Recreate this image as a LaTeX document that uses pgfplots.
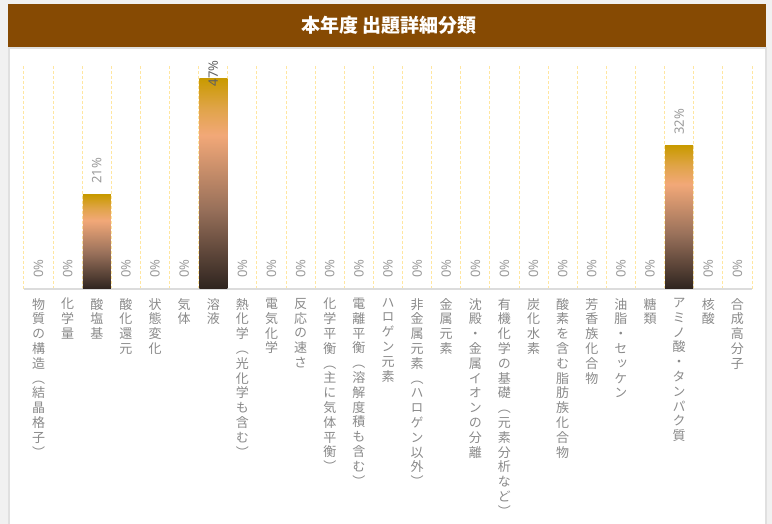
\documentclass[border=0pt]{standalone}
\usepackage{fontspec}
\usepackage{pgfplots}
\pgfplotsset{compat=1.18}
\setmainfont{Noto Sans}
\newfontfamily\jp{Noto Sans CJK JP}
\newfontfamily\vjp{Noto Sans CJK JP}[RawFeature={+vert}]
\definecolor{bgc}{HTML}{F1F1F1}
\definecolor{panelb}{HTML}{E0E0E0}
\definecolor{titlebrown}{HTML}{864A03}
\definecolor{gridy}{HTML}{FFE6A0}
\definecolor{axisgray}{HTML}{DCDCDC}
\definecolor{labgray}{HTML}{8A8A8A}
\definecolor{valgray}{HTML}{9A9A9A}
\definecolor{bgold}{HTML}{C99A00}
\definecolor{borange}{HTML}{E0A448}
\definecolor{bsalmon}{HTML}{F2A878}
\definecolor{bmid}{HTML}{98705A}
\definecolor{bdark}{HTML}{2E241F}
\pgfdeclareverticalshading{barshade}{100bp}{color(0bp)=(bdark); color(25bp)=(bdark); color(44bp)=(bmid); color(61.5bp)=(bsalmon); color(68bp)=(borange); color(75bp)=(bgold); color(100bp)=(bgold)}
\makeatletter
\protected\def\vt#1{\gdef\vt@out{}%
  \@tfor\vt@c:=#1\do{%
    \ifx\vt@out\@empty
      \expandafter\g@addto@macro\expandafter\vt@out\expandafter{\vt@c}%
    \else
      \expandafter\g@addto@macro\expandafter\vt@out\expandafter{\expandafter\\\vt@c}%
    \fi}%
  \vt@out}
\makeatother
\pgfplotsset{barstyle/.style={ybar, bar width=0.96, draw=none, shade, shading=barshade}}
\begin{document}
\begin{tikzpicture}
\useasboundingbox (0,0) rectangle (772pt,524pt);
\fill[bgc] (0,0) rectangle (772pt,524pt);
\draw[panelb, fill=white, line width=1.5pt] (8.75pt,-2pt) rectangle (766pt,476pt);
\fill[titlebrown] (8pt,477pt) rectangle (766pt,520pt);
\node[text=white, font=\jp\bfseries\fontsize{19}{22}\selectfont] at (389pt,498.5pt) {本年度 出題詳細分類};
\begin{axis}[
  at={(24pt,235pt)}, anchor=south west, scale only axis,
  width=728pt, height=224pt,
  xmin=-0.5, xmax=24.5, ymin=0, ymax=50,
  axis x line*=bottom, axis y line=none,
  x axis line style={draw=axisgray, line width=1.5pt},
  xtick={0,...,24},
  xticklabels={
    {\vt{物質の構造（結晶格子）}},
    {\vt{化学量}},
    {\vt{酸塩基}},
    {\vt{酸化還元}},
    {\vt{状態変化}},
    {\vt{気体}},
    {\vt{溶液}},
    {\vt{熱化学（光化学も含む）}},
    {\vt{電気化学}},
    {\vt{反応の速さ}},
    {\vt{化学平衡（主に気体平衡）}},
    {\vt{電離平衡（溶解度積も含む）}},
    {\vt{ハロゲン元素}},
    {\vt{非金属元素（ハロゲン以外）}},
    {\vt{金属元素}},
    {\vt{沈殿・金属イオンの分離}},
    {\vt{有機化学の基礎（元素分析など）}},
    {\vt{炭化水素}},
    {\vt{酸素を含む脂肪族化合物}},
    {\vt{芳香族化合物}},
    {\vt{油脂・セッケン}},
    {\vt{糖類}},
    {\vt{アミノ酸・タンパク質}},
    {\vt{核酸}},
    {\vt{合成高分子}}},
  xticklabel style={font=\vjp\fontsize{13}{14.8}\selectfont, text=labgray, align=center, anchor=north, inner sep=0pt, yshift=-9pt},
  minor xtick={-0.5,0.5,...,24.5},
  xminorgrids,
  minor x grid style={draw=gridy, line width=1pt, dash pattern=on 3pt off 2pt},
  major tick length=0pt, minor tick length=0pt,
  clip=false,
]
% 酸塩基
\addplot[barstyle] coordinates {(2,21)};
% アミノ酸・タンパク質
\addplot[barstyle] coordinates {(22,32)};
\addplot[draw=none, mark=none, point meta=explicit symbolic,
  nodes near coords,
  nodes near coords style={font=\fontsize{13}{15}\selectfont, text=valgray, rotate=90, anchor=west, inner xsep=11pt, inner ysep=0pt}]
  coordinates {
  (0,0) [0\%] (1,0) [0\%] (2,21) [21\%] (3,0) [0\%] (4,0) [0\%]
  (5,0) [0\%] (7,0) [0\%] (8,0) [0\%] (9,0) [0\%]
  (10,0) [0\%] (11,0) [0\%] (12,0) [0\%] (13,0) [0\%] (14,0) [0\%]
  (15,0) [0\%] (16,0) [0\%] (17,0) [0\%] (18,0) [0\%] (19,0) [0\%]
  (20,0) [0\%] (21,0) [0\%] (22,32) [32\%] (23,0) [0\%] (24,0) [0\%]
  };
% 溶液 (its label sits inside the plot top, over the bar)
\addplot[barstyle, point meta=explicit symbolic, nodes near coords,
  nodes near coords style={font=\fontsize{13}{15}\selectfont, text=gray!75!black, rotate=90, anchor=west, inner xsep=-8pt, inner ysep=0pt}]
  coordinates {(6,47) [47\%]};
\end{axis}
\end{tikzpicture}
\end{document}
